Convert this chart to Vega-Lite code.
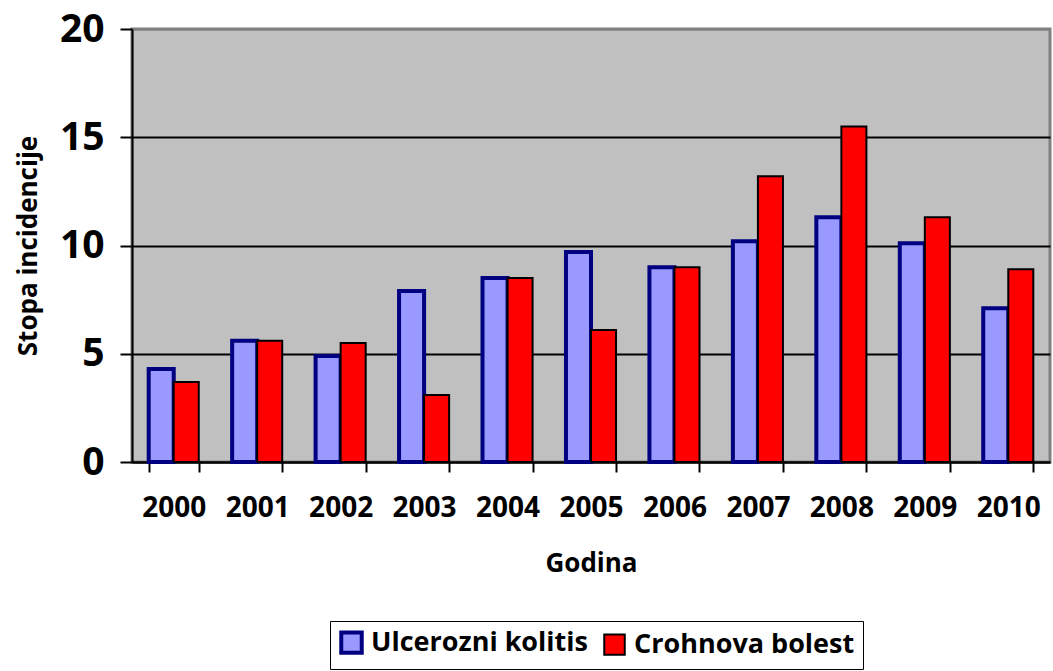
{
  "$schema": "https://vega.github.io/schema/vega-lite/v6.json",
  "width": 918,
  "height": 433,
  "autosize": "none",
  "padding": {"left": 132, "top": 29, "right": 3, "bottom": 209},
  "background": "white",
  "config": {
    "font": "Open Sans",
    "view": {"fill": "#C0C0C0", "stroke": "#808080", "strokeWidth": 3}
  },
  "data": {
    "values": [
      {"year": "2000", "series": "Ulcerozni kolitis", "value": 4.3},
      {"year": "2000", "series": "Crohnova bolest", "value": 3.7},
      {"year": "2001", "series": "Ulcerozni kolitis", "value": 5.6},
      {"year": "2001", "series": "Crohnova bolest", "value": 5.6},
      {"year": "2002", "series": "Ulcerozni kolitis", "value": 4.9},
      {"year": "2002", "series": "Crohnova bolest", "value": 5.5},
      {"year": "2003", "series": "Ulcerozni kolitis", "value": 7.9},
      {"year": "2003", "series": "Crohnova bolest", "value": 3.1},
      {"year": "2004", "series": "Ulcerozni kolitis", "value": 8.5},
      {"year": "2004", "series": "Crohnova bolest", "value": 8.5},
      {"year": "2005", "series": "Ulcerozni kolitis", "value": 9.7},
      {"year": "2005", "series": "Crohnova bolest", "value": 6.1},
      {"year": "2006", "series": "Ulcerozni kolitis", "value": 9.0},
      {"year": "2006", "series": "Crohnova bolest", "value": 9.0},
      {"year": "2007", "series": "Ulcerozni kolitis", "value": 10.2},
      {"year": "2007", "series": "Crohnova bolest", "value": 13.2},
      {"year": "2008", "series": "Ulcerozni kolitis", "value": 11.3},
      {"year": "2008", "series": "Crohnova bolest", "value": 15.5},
      {"year": "2009", "series": "Ulcerozni kolitis", "value": 10.1},
      {"year": "2009", "series": "Crohnova bolest", "value": 11.3},
      {"year": "2010", "series": "Ulcerozni kolitis", "value": 7.1},
      {"year": "2010", "series": "Crohnova bolest", "value": 8.9}
    ]
  },
  "mark": {"type": "bar", "strokeJoin": "miter"},
  "encoding": {
    "x": {
      "field": "year",
      "type": "nominal",
      "scale": {"paddingInner": 0.4, "paddingOuter": 0.2},
      "axis": {
        "title": "Godina",
        "titleFontSize": 26,
        "titleFontWeight": "bold",
        "titleColor": "black",
        "titlePadding": 28,
        "labelAngle": 0,
        "labelFontSize": 28,
        "labelFontWeight": "bold",
        "labelColor": "black",
        "labelPadding": 22,
        "tickBand": "extent",
        "tickSize": 10,
        "tickColor": "black",
        "tickWidth": 2,
        "domainColor": "black",
        "domainWidth": 2
      }
    },
    "xOffset": {
      "field": "series",
      "type": "nominal",
      "sort": ["Ulcerozni kolitis", "Crohnova bolest"]
    },
    "y": {
      "field": "value",
      "type": "quantitative",
      "scale": {"domain": [0, 20], "nice": false},
      "axis": {
        "title": "Stopa incidencije",
        "titleFontSize": 26,
        "titleFontWeight": "bold",
        "titleColor": "black",
        "titlePadding": 18,
        "values": [0, 5, 10, 15, 20],
        "labelFontSize": 39,
        "labelFontWeight": "bold",
        "labelColor": "black",
        "labelPadding": 16,
        "tickSize": 12,
        "tickColor": "black",
        "tickWidth": 2,
        "domainColor": "black",
        "domainWidth": 2,
        "grid": true,
        "gridColor": {"condition": {"test": "datum.value == 20", "value": "#808080"}, "value": "black"},
        "gridWidth": 2,
        "gridOpacity": 1
      }
    },
    "fill": {
      "field": "series",
      "type": "nominal",
      "sort": ["Ulcerozni kolitis", "Crohnova bolest"],
      "scale": {"domain": ["Ulcerozni kolitis", "Crohnova bolest"], "range": ["#9999FF", "#FF0000"]},
      "legend": {
        "title": null,
        "orient": "none",
        "legendX": 198,
        "legendY": 592,
        "direction": "horizontal",
        "labelFontSize": 27,
        "labelFontWeight": "bold",
        "labelColor": "black",
        "labelLimit": 0,
        "symbolType": "square",
        "symbolSize": 420,
        "symbolStrokeWidth": 4,
        "symbolOpacity": 1,
        "columnPadding": 12,
        "labelOffset": 6,
        "padding": 8,
        "strokeColor": "black"
      }
    },
    "stroke": {
      "field": "series",
      "type": "nominal",
      "scale": {"domain": ["Ulcerozni kolitis", "Crohnova bolest"], "range": ["#000080", "#000000"]}
    },
    "strokeWidth": {
      "field": "series",
      "type": "nominal",
      "scale": {"domain": ["Ulcerozni kolitis", "Crohnova bolest"], "range": [4, 2]},
      "legend": null
    }
  }
}
